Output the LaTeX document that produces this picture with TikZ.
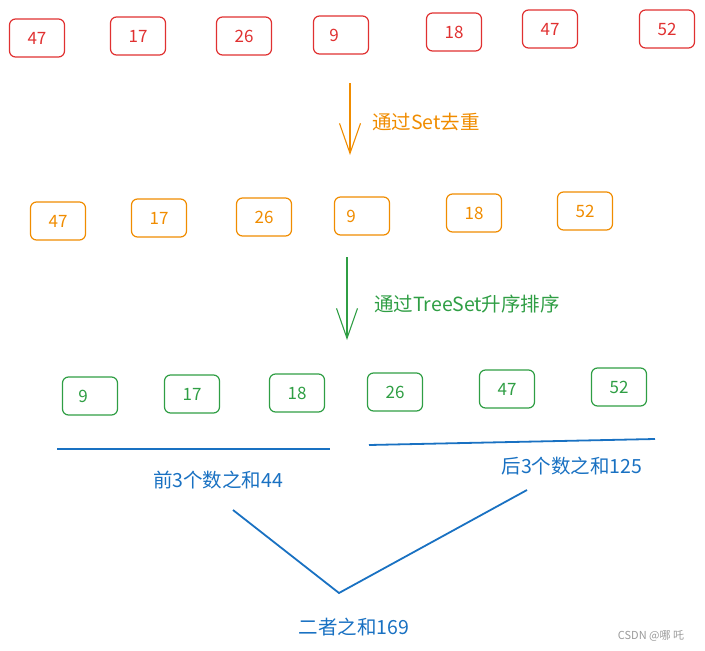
\documentclass[tikz,border=0pt]{standalone}
\usepackage{fontspec}
\setmainfont{Noto Sans CJK SC}
\usetikzlibrary{arrows.meta}
\definecolor{xred}{HTML}{E03131}
\definecolor{xorange}{HTML}{F08C00}
\definecolor{xgreen}{HTML}{2F9E44}
\definecolor{xblue}{HTML}{1971C2}
\definecolor{xgray}{HTML}{9A9A9A}
\tikzset{
  numbox/.style={draw, rounded corners=6pt, line width=1.2pt, minimum width=55pt, minimum height=38pt, inner sep=0pt, font=\fontsize{17}{17}\selectfont},
  redbox/.style={numbox, draw=xred, text=xred},
  orangebox/.style={numbox, draw=xorange, text=xorange},
  greenbox/.style={numbox, draw=xgreen, text=xgreen},
  lshift/.style={execute at begin node={\hspace*{-#1}}},
  steparrow/.style={line width=1.1pt, -{Straight Barb[length=30pt,width=21pt,line width=1.1pt]}},
  steplabel/.style={anchor=west, inner sep=0pt, font=\fontsize{19.5}{19.5}\selectfont},
  sumline/.style={draw=xblue, line width=1.8pt},
  sumlabel/.style={text=xblue, inner sep=0pt, font=\fontsize{19.5}{19.5}\selectfont}
}
\begin{document}
\begin{tikzpicture}[x=1pt,y=-1pt]
\useasboundingbox (0,0) rectangle (705,651);
% row 1
\node[redbox] (r1) at (37,38) {47};
\node[redbox] (r2) at (138,36) {17};
\node[redbox] (r3) at (244,36) {26};
\node[redbox,lshift=14pt] (r4) at (341,35) {9};
\node[redbox] (r5) at (454,32) {18};
\node[redbox] (r6) at (550,29) {47};
\node[redbox] (r7) at (667,29) {52};
% arrow 1
\coordinate (a1s) at (350,83);
\coordinate (a1e) at (350,155);
\draw[steparrow, draw=xorange] (a1s) -- (a1e);
\node[steplabel, text=xorange] (l1) at (372,122) {通过Set去重};
% row 2
\node[orangebox] (o1) at (58,221) {47};
\node[orangebox] (o2) at (159,218) {17};
\node[orangebox] (o3) at (264,217) {26};
\node[orangebox,lshift=22pt] (o4) at (362,216) {9};
\node[orangebox] (o5) at (474,213) {18};
\node[orangebox] (o6) at (585,211) {52};
% arrow 2
\coordinate (a2s) at (347,257);
\coordinate (a2e) at (347,340);
\draw[steparrow, draw=xgreen] (a2s) -- (a2e);
\node[steplabel, text=xgreen] (l2) at (374,304) {通过TreeSet升序排序};
% row 3
\node[greenbox,lshift=14pt] (g1) at (90,396) {9};
\node[greenbox] (g2) at (192,394) {17};
\node[greenbox] (g3) at (297,393) {18};
\node[greenbox] (g4) at (395,392) {26};
\node[greenbox] (g5) at (507,389) {47};
\node[greenbox] (g6) at (619,387) {52};
% sum lines
\coordinate (bl1) at (57,449);
\coordinate (bl2) at (330,449);
\coordinate (br1) at (369,445);
\coordinate (br2) at (655,439);
\draw[sumline] (bl1) -- (bl2);
\draw[sumline] (br1) -- (br2);
\node[sumlabel] (s1) at (218,480) {前3个数之和44};
\node[sumlabel] (s2) at (572,466) {后3个数之和125};
\coordinate (v1) at (233,510);
\coordinate (v2) at (339,593);
\coordinate (v3) at (527,490);
\draw[sumline, line join=miter] (v1) -- (v2) -- (v3);
\node[sumlabel] (s3) at (354,627) {二者之和169};
\node[text=xgray, inner sep=0pt, font=\fontsize{11}{11}\selectfont] (wm) at (651,636) {CSDN @哪 吒};
\end{tikzpicture}
\end{document}
